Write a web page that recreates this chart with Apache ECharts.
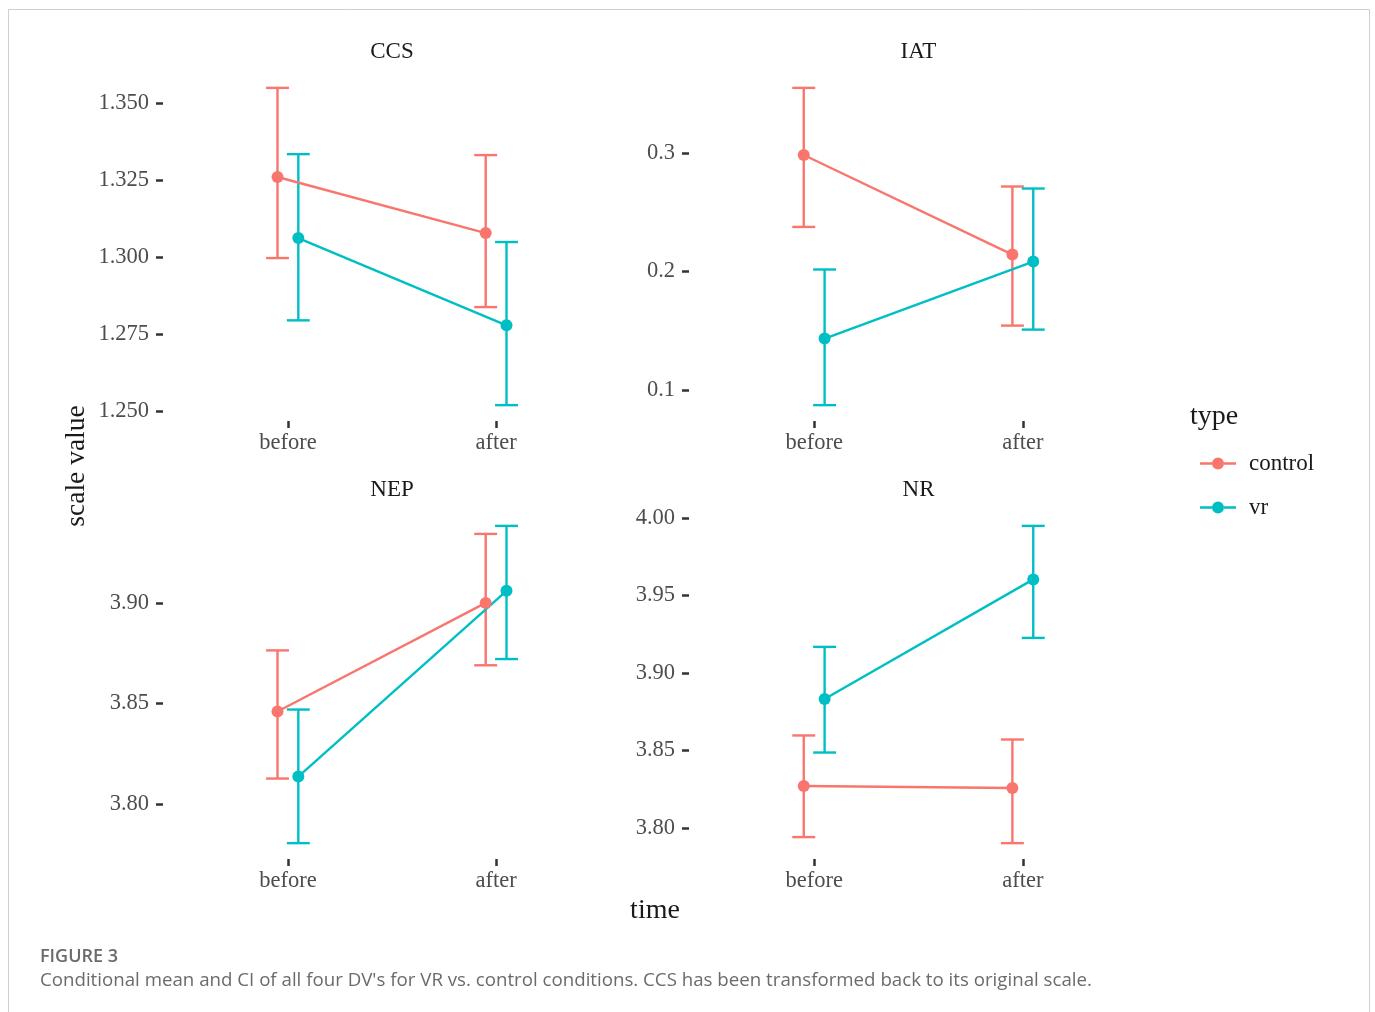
<!DOCTYPE html>
<html>
<head>
<meta charset="utf-8">
<script src="https://cdn.jsdelivr.net/npm/echarts@6/dist/echarts.min.js"></script>
<style>
html,body{margin:0;padding:0;background:#fff;}
#chart{width:1375px;height:1012px;}
</style>
</head>
<body>
<div id="chart"></div>
<script>
// ---- data ----
const timeLabels = ['before', 'after'];
const groupNames = ['control', 'vr'];
const panelNames = ['CCS', 'IAT', 'NEP', 'NR'];

const ccsCtrlMean = [1.3260, 1.3078];
const ccsCtrlLow  = [1.2997, 1.2838];
const ccsCtrlHigh = [1.3549, 1.3331];
const ccsVrMean   = [1.3062, 1.2779];
const ccsVrLow    = [1.2795, 1.2520];
const ccsVrHigh   = [1.3334, 1.3049];

const iatCtrlMean = [0.2983, 0.2143];
const iatCtrlLow  = [0.2376, 0.1544];
const iatCtrlHigh = [0.3549, 0.2717];
const iatVrMean   = [0.1435, 0.2084];
const iatVrLow    = [0.0873, 0.1510];
const iatVrHigh   = [0.2017, 0.2700];

const nepCtrlMean = [3.8460, 3.9000];
const nepCtrlLow  = [3.8127, 3.8690];
const nepCtrlHigh = [3.8764, 3.9343];
const nepVrMean   = [3.8137, 3.9060];
const nepVrLow    = [3.7806, 3.8721];
const nepVrHigh   = [3.8470, 3.9383];

const nrCtrlMean = [3.8271, 3.8258];
const nrCtrlLow  = [3.7942, 3.7903];
const nrCtrlHigh = [3.8597, 3.8571];
const nrVrMean   = [3.8832, 3.9603];
const nrVrLow    = [3.8487, 3.9226];
const nrVrHigh   = [3.9168, 3.9948];

const ccsTicks = [1.250, 1.275, 1.300, 1.325, 1.350];
const iatTicks = [0.1, 0.2, 0.3];
const nepTicks = [3.80, 3.85, 3.90];
const nrTicks  = [3.80, 3.85, 3.90, 3.95, 4.00];
const tickDecimals = [3, 1, 2, 2];

// ---- build ----
const colors = {control: '#F8766D', vr: '#00BFC4'};
const dodge = 0.05;
const capHalf = 0.055;
const serif = '"Liberation Serif", "DejaVu Serif", serif';

const panels = [
  {ctrl: [ccsCtrlMean, ccsCtrlLow, ccsCtrlHigh], vr: [ccsVrMean, ccsVrLow, ccsVrHigh], ticks: ccsTicks},
  {ctrl: [iatCtrlMean, iatCtrlLow, iatCtrlHigh], vr: [iatVrMean, iatVrLow, iatVrHigh], ticks: iatTicks},
  {ctrl: [nepCtrlMean, nepCtrlLow, nepCtrlHigh], vr: [nepVrMean, nepVrLow, nepVrHigh], ticks: nepTicks},
  {ctrl: [nrCtrlMean, nrCtrlLow, nrCtrlHigh], vr: [nrVrMean, nrVrLow, nrVrHigh], ticks: nrTicks}
];

const gridPos = [
  {left: 163, top: 72, width: 458, height: 349},
  {left: 689, top: 72, width: 459, height: 349},
  {left: 163, top: 510, width: 458, height: 349},
  {left: 689, top: 510, width: 459, height: 349}
];

const grids = [], xAxes = [], yAxes = [], series = [], graphics = [];

panels.forEach((p, i) => {
  grids.push(Object.assign({containLabel: false}, gridPos[i]));
  const all = p.ctrl[1].concat(p.ctrl[2], p.vr[1], p.vr[2]);
  const lo = Math.min.apply(null, all), hi = Math.max.apply(null, all);
  const pad = (hi - lo) * 0.05;
  xAxes.push({
    type: 'value', gridIndex: i, min: 0.4, max: 2.6,
    axisLine: {show: false}, splitLine: {show: false},
    axisTick: {show: true, customValues: [1, 2], length: 7, lineStyle: {color: '#333', width: 2.5}},
    axisLabel: {customValues: [1, 2], margin: 11, color: '#4d4d4d', fontSize: 22.5, fontFamily: serif,
      formatter: v => timeLabels[Math.round(v) - 1]}
  });
  const dec = tickDecimals[i];
  yAxes.push({
    type: 'value', gridIndex: i, min: lo - pad, max: hi + pad,
    axisLine: {show: false}, splitLine: {show: false},
    axisTick: {show: true, customValues: p.ticks, length: 7, lineStyle: {color: '#333', width: 2.5}},
    axisLabel: {customValues: p.ticks, margin: 14, color: '#4d4d4d', fontSize: 22.5, fontFamily: serif,
      formatter: v => Number(v).toFixed(dec)}
  });
  graphics.push({
    type: 'text',
    x: gridPos[i].left + gridPos[i].width / 2, y: gridPos[i].top - 20,
    style: {text: panelNames[i], font: '23px ' + serif, fill: '#1a1a1a', align: 'center', verticalAlign: 'middle'},
    silent: true
  });
  groupNames.forEach((g, gi) => {
    const d = gi === 0 ? p.ctrl : p.vr;
    const off = gi === 0 ? -dodge : dodge;
    const col = colors[g];
    series.push({
      type: 'custom', name: g + ' CI', xAxisIndex: i, yAxisIndex: i,
      data: timeLabels.map((t, k) => [k + 1 + off, d[1][k], d[2][k]]),
      renderItem: (params, api) => {
        const x = api.value(0), l = api.value(1), h = api.value(2);
        const top = api.coord([x, h]), bot = api.coord([x, l]);
        const tl = api.coord([x - capHalf, h]), tr = api.coord([x + capHalf, h]);
        const bl = api.coord([x - capHalf, l]), br = api.coord([x + capHalf, l]);
        const st = {stroke: col, lineWidth: 2.4};
        return {type: 'group', children: [
          {type: 'line', shape: {x1: top[0], y1: top[1], x2: bot[0], y2: bot[1]}, style: st},
          {type: 'line', shape: {x1: tl[0], y1: tl[1], x2: tr[0], y2: tr[1]}, style: st},
          {type: 'line', shape: {x1: bl[0], y1: bl[1], x2: br[0], y2: br[1]}, style: st}
        ]};
      },
      z: 2, silent: true
    });
    series.push({
      type: 'line', name: g, xAxisIndex: i, yAxisIndex: i,
      data: timeLabels.map((t, k) => [k + 1 + off, d[0][k]]),
      symbol: 'circle', symbolSize: 12, showSymbol: true,
      lineStyle: {color: col, width: 2.4},
      itemStyle: {color: col},
      z: 3
    });
  });
});

const legendIcon = 'path://M0,5 L12,5 L12,7.5 L0,7.5 Z M24,5 L36,5 L36,7.5 L24,7.5 Z M24,6.25 A6,6 0 1,1 12,6.25 A6,6 0 1,1 24,6.25 Z';

graphics.push(
  {type: 'rect', shape: {x: 8.5, y: 9.5, width: 1361, height: 1012}, style: {fill: 'none', stroke: '#cfcfcf', lineWidth: 1}, silent: true},
  {type: 'text', x: 1190, y: 417, style: {text: 'type', font: '28px ' + serif, fill: '#1a1a1a', verticalAlign: 'middle'}},
  {type: 'text', x: 77, y: 466, rotation: Math.PI / 2, style: {text: 'scale value', font: '27.5px ' + serif, fill: '#1a1a1a', align: 'center', verticalAlign: 'middle'}},
  {type: 'text', x: 655, y: 911, style: {text: 'time', font: '28px ' + serif, fill: '#1a1a1a', align: 'center', verticalAlign: 'middle'}},
  {type: 'text', x: 40, y: 957, style: {text: 'FIGURE 3', font: '600 18px "Open Sans", sans-serif', fill: '#6b6b6b', verticalAlign: 'middle'}},
  {type: 'text', x: 40, y: 981, style: {text: "Conditional mean and CI of all four DV's for VR vs. control conditions. CCS has been transformed back to its original scale.", font: '18.7px "Open Sans", sans-serif', fill: '#6b6b6b', verticalAlign: 'middle'}}
);

const chart = echarts.init(document.getElementById('chart'), null, {renderer: 'canvas'});
chart.setOption({
  animation: false,
  backgroundColor: '#fff',
  grid: grids,
  xAxis: xAxes,
  yAxis: yAxes,
  series: series,
  legend: {
    data: groupNames.map(n => ({name: n, icon: legendIcon})),
    orient: 'vertical', left: 1195, top: 447,
    itemWidth: 36, itemHeight: 12.5, itemGap: 21,
    textStyle: {fontFamily: serif, fontSize: 23, color: '#1a1a1a', padding: [0, 0, 0, 8]}
  },
  graphic: graphics
});
</script>
</body>
</html>
